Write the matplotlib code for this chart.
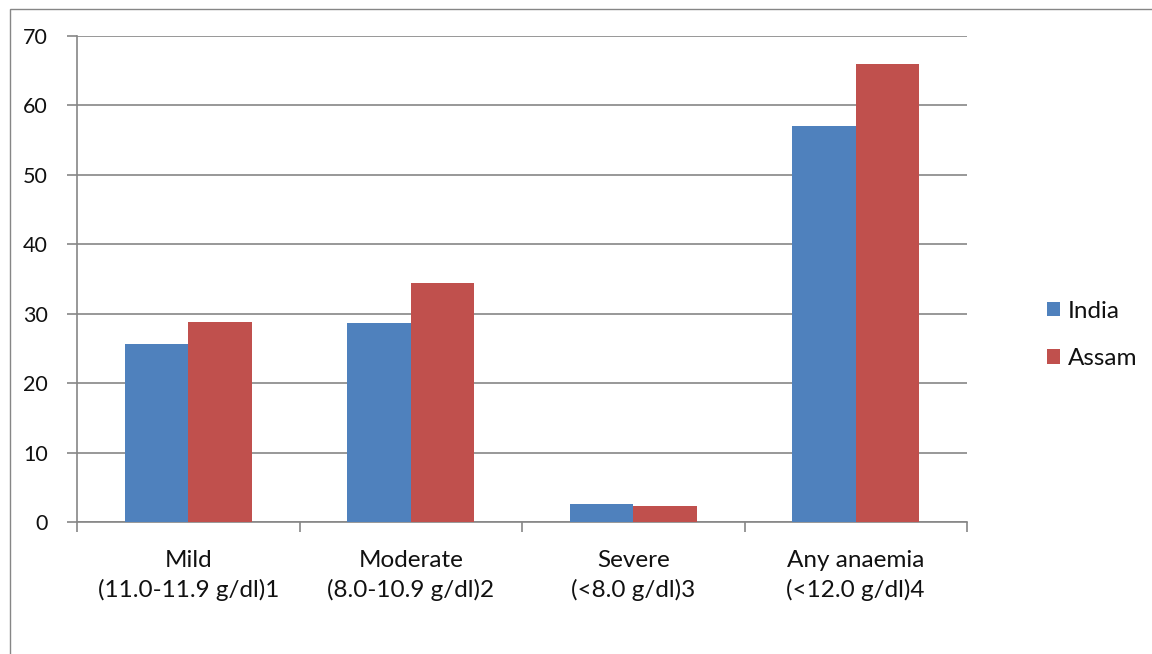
import matplotlib
matplotlib.use("Agg")
import matplotlib.pyplot as plt
from matplotlib.patches import Rectangle
import numpy as np

categories = ["Mild\n(11.0-11.9 g/dl)1", "Moderate\n(8.0-10.9 g/dl)2",
              "Severe\n(<8.0 g/dl)3", "Any anaemia\n(<12.0 g/dl)4"]
india = [25.6, 28.6, 2.6, 57.0]
assam = [28.8, 34.4, 2.3, 66.0]
series_names = ["India", "Assam"]
yticks = [0, 10, 20, 30, 40, 50, 60, 70]

plt.rcParams['font.family'] = ['Lato', 'DejaVu Sans']

W, H = 1152, 654
fig = plt.figure(figsize=(W/100, H/100), dpi=100)
fig.patch.set_facecolor('white')
# outer frame
fig.patches.append(Rectangle((10/W, -0.1), 1.2, 1 - 9/H + 0.1, transform=fig.transFigure,
                             fill=False, edgecolor='#868686', linewidth=1.0))

ax = fig.add_axes([77/W, 1 - 522/H, (967-77)/W, (522-36)/H])
x = np.arange(len(categories))
bw = 0.285
c1, c2 = '#4F81BD', '#C0504D'
ax.bar(x - bw/2, india, bw, color=c1, label=series_names[0], zorder=3)
ax.bar(x + bw/2, assam, bw, color=c2, label=series_names[1], zorder=3)

ax.set_xlim(-0.5, len(categories) - 0.5)
ax.set_ylim(0, 70)
ax.set_yticks(yticks)
ax.set_yticklabels([str(v) for v in yticks], fontsize=15.5, color='#111111')
ax.yaxis.grid(True, color='#868686', linewidth=1.2, zorder=0)
ax.set_axisbelow(True)
for s in ['top', 'right']:
    ax.spines[s].set_visible(False)
for s in ['left', 'bottom']:
    ax.spines[s].set_color('#868686')
    ax.spines[s].set_linewidth(1.2)
ax.tick_params(axis='y', length=7, color='#868686', width=1.2, pad=14)
# category boundary ticks
ax.set_xticks(np.arange(len(categories) + 1) - 0.5)
ax.set_xticklabels([])
ax.tick_params(axis='x', length=7, color='#868686', width=1.2)
ax.set_xticks(x, minor=True)
ax.set_xticklabels(categories, minor=True, fontsize=17.5, linespacing=1.45, color='#111111')
ax.tick_params(axis='x', which='minor', length=0, pad=20)

leg = fig.legend(loc='center left', bbox_to_anchor=(1047/W, 1 - 335/H), frameon=False,
                 fontsize=17.5, handlelength=0.55, handleheight=0.55, handletextpad=0.3,
                 labelspacing=1.1, borderpad=0, borderaxespad=0)
for t in leg.get_texts():
    t.set_color('#111111')

fig.savefig("out.png", dpi=100)
